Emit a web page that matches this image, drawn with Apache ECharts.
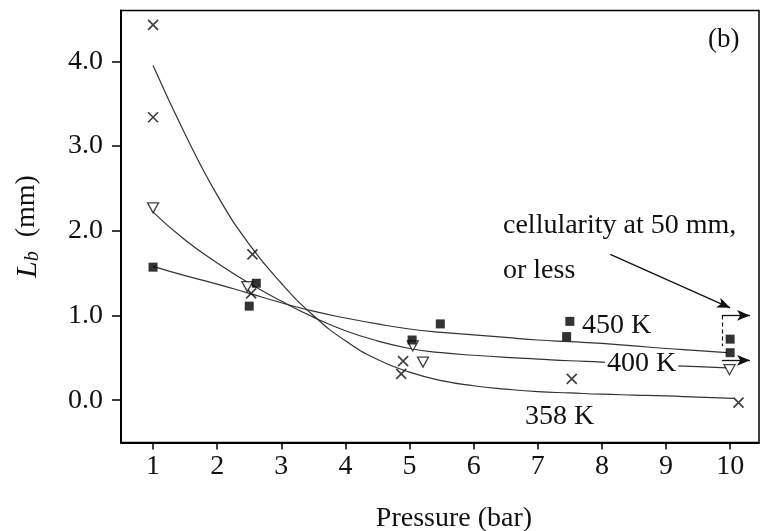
<!DOCTYPE html>
<html>
<head>
<meta charset="utf-8">
<script src="https://cdn.jsdelivr.net/npm/echarts@6/dist/echarts.min.js"></script>
<style>html,body{margin:0;padding:0;background:#fff;}#c{width:762px;height:531px;}</style>
</head>
<body>
<div id="c"></div>
<script>
// ---- data ----
const xTicks = [1, 2, 3, 4, 5, 6, 7, 8, 9, 10];
const yTicks = [0, 1, 2, 3, 4];

const pts358 = [[1, 4.43], [1, 3.34], [2.55, 1.72], [2.53, 1.26], [4.90, 0.46], [4.87, 0.31], [7.53, 0.25], [10.13, -0.03]];
const pts400 = [[1, 2.27], [2.47, 1.34], [5.05, 0.64], [5.21, 0.45], [9.99, 0.36]];
const pts450 = [[1, 1.57], [2.50, 1.11], [2.61, 1.38], [5.04, 0.71], [5.48, 0.90], [7.45, 0.75], [7.50, 0.93], [10.0, 0.72], [10.0, 0.56]];

const fit358 = [[1.0, 3.95], [1.5, 3.14], [2.0, 2.42], [2.5, 1.84], [3.0, 1.38], [3.5, 1.00], [4.0, 0.70], [4.5, 0.48], [5.0, 0.33], [5.5, 0.23], [6.0, 0.17], [6.5, 0.13], [7.0, 0.10], [7.5, 0.085], [8.0, 0.07], [8.5, 0.06], [9.0, 0.05], [9.5, 0.035], [10.05, 0.02]];
const fit400 = [[1.0, 2.22], [1.5, 1.89], [2.0, 1.62], [2.5, 1.38], [3.0, 1.17], [3.5, 0.98], [4.0, 0.82], [4.5, 0.70], [5.0, 0.61], [5.5, 0.56], [6.0, 0.53], [6.5, 0.505], [7.0, 0.485], [7.5, 0.465], [8.0, 0.45], [8.5, 0.43], [9.0, 0.41], [9.5, 0.395], [9.95, 0.38]];
const fit450 = [[1.0, 1.58], [1.5, 1.47], [2.0, 1.37], [2.5, 1.26], [3.0, 1.15], [3.5, 1.05], [4.0, 0.97], [4.5, 0.90], [5.0, 0.84], [5.5, 0.80], [6.0, 0.77], [6.5, 0.74], [7.0, 0.71], [7.5, 0.69], [8.0, 0.67], [8.5, 0.64], [9.0, 0.61], [9.5, 0.585], [9.95, 0.56]];

// annotation arrows (data space)
const arrowNote = [[8.13, 1.72], [10.0, 1.09]];
const arrowUpper = [[9.87, 1.0], [10.31, 1.0]];
const arrowLower = [[9.87, 0.47], [10.31, 0.47]];
const dashNote = [[9.88, 1.0], [9.88, 0.64]];

const FONT = '"Liberation Serif", "Times New Roman", serif';

const chart = echarts.init(document.getElementById('c'), null, {renderer: 'canvas'});

const crossPath = 'path://M0,0L10,10M10,0L0,10';
const triPath = 'path://M0,0L10,0L5,9Z';

function seg(p) {
  return [
    {coord: p[0], symbol: 'none'},
    {coord: p[1], symbol: 'arrow', symbolSize: [8, 13]}
  ];
}

const curveStyle = {color: '#333', width: 1.2};

chart.setOption({
  animation: false,
  backgroundColor: '#fff',
  grid: {left: 121, right: 3, top: 10.5, bottom: 88.5, containLabel: false, outerBoundsMode: 'none',
         show: true, borderColor: '#000', borderWidth: 1.5, backgroundColor: 'transparent'},
  xAxis: {
    type: 'value', min: 0.5, max: 10.45,
    name: 'Pressure (bar)', nameLocation: 'middle', nameGap: 62,
    nameTextStyle: {fontFamily: FONT, fontSize: 28, color: '#111', padding: [0, 0, 0, 28]},
    axisLine: {show: true, onZero: false, lineStyle: {color: '#000', width: 2}},
    axisTick: {show: true, inside: false, length: 7, lineStyle: {color: '#000', width: 1.5}, customValues: xTicks},
    axisLabel: {fontFamily: FONT, fontSize: 28, color: '#111', margin: 10, customValues: xTicks, formatter: v => String(v)},
    splitLine: {show: false}
  },
  yAxis: {
    type: 'value', min: -0.5, max: 4.6,
    name: '{i|L}{s|b}  (mm)', nameLocation: 'middle', nameGap: 78, nameRotate: 90,
    nameTextStyle: {
      fontFamily: FONT, fontSize: 28, color: '#111',
      rich: {
        i: {fontFamily: FONT, fontSize: 30, fontStyle: 'italic', color: '#111', verticalAlign: 'bottom'},
        s: {fontFamily: FONT, fontSize: 20, fontStyle: 'italic', color: '#111', verticalAlign: 'bottom', padding: [12, 0, 0, 0]}
      }
    },
    axisLine: {show: true, onZero: false, lineStyle: {color: '#000', width: 2}},
    axisTick: {show: true, inside: false, length: 9, lineStyle: {color: '#000', width: 1.5}, customValues: yTicks},
    axisLabel: {fontFamily: FONT, fontSize: 28, color: '#111', margin: 18, customValues: yTicks, formatter: v => v.toFixed(1)},
    splitLine: {show: false}
  },
  series: [
    {type: 'line', name: 'fit358', data: fit358, smooth: true, showSymbol: false, silent: true,
     lineStyle: curveStyle, z: 2},
    {type: 'line', name: 'fit400', data: fit400, smooth: true, showSymbol: false, silent: true,
     lineStyle: curveStyle, z: 2},
    {type: 'line', name: 'fit450', data: fit450, smooth: true, showSymbol: false, silent: true,
     lineStyle: curveStyle, z: 2,
     markLine: {
       silent: true, animation: false, symbol: ['none', 'none'],
       label: {show: false},
       lineStyle: {color: '#111', width: 1.3, type: 'solid'},
       data: [
         seg(arrowNote),
         seg(arrowUpper),
         seg(arrowLower),
         [{coord: dashNote[0], symbol: 'none', lineStyle: {type: [4, 3], width: 1.2}}, {coord: dashNote[1], symbol: 'none'}]
       ]
     }},
    {type: 'scatter', name: '358 K', data: pts358, symbol: crossPath, symbolSize: 10,
     itemStyle: {color: 'transparent', borderColor: '#111', borderWidth: 1.7}, z: 4},
    {type: 'scatter', name: '400 K', data: pts400, symbol: triPath, symbolSize: [11, 10],
     itemStyle: {color: '#fff', borderColor: '#111', borderWidth: 1.3}, z: 4},
    {type: 'scatter', name: '450 K', data: pts450, symbol: 'rect', symbolSize: 9,
     itemStyle: {color: '#000'}, z: 5}
  ],
  graphic: [
    {type: 'text', left: 708, top: 26, z: 10, style: {text: '(b)', font: '27px ' + FONT, fill: '#111'}},
    {type: 'text', left: 503, top: 212, z: 10, style: {text: 'cellularity at 50 mm,', font: '28px ' + FONT, fill: '#111'}},
    {type: 'text', left: 503, top: 257, z: 10, style: {text: 'or less', font: '28px ' + FONT, fill: '#111'}},
    {type: 'text', left: 582, top: 312, z: 10, style: {text: '450 K', font: '28px ' + FONT, fill: '#111'}},
    {type: 'text', left: 605, top: 350, z: 10, style: {text: '400 K', font: '28px ' + FONT, fill: '#111', backgroundColor: '#fff', padding: [0, 2, 0, 2]}},
    {type: 'text', left: 525, top: 403, z: 10, style: {text: '358 K', font: '28px ' + FONT, fill: '#111'}}
  ]
});
</script>
</body>
</html>
